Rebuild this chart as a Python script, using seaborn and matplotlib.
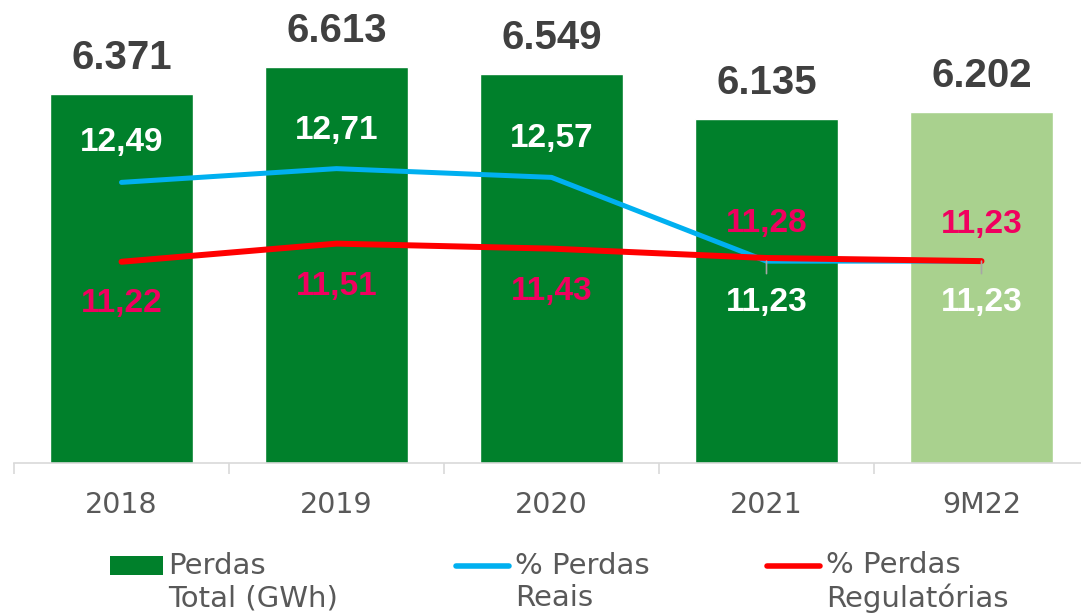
import numpy as np
import pandas as pd
import matplotlib.pyplot as plt
import seaborn as sns
from matplotlib.patches import Patch
from matplotlib.lines import Line2D

# data
categories = ['2018', '2019', '2020', '2021', '9M22']
perdas_total = [6371, 6613, 6549, 6135, 6202]           # GWh
perdas_reais = [12.49, 12.71, 12.57, 11.23, 11.23]      # %
perdas_regulatorias = [11.22, 11.51, 11.43, 11.28, 11.23]  # %

DARK_GREEN = '#00802B'
LIGHT_GREEN = '#A9D18E'
BLUE = '#00B0F0'
RED = '#FF0000'
PINK = '#F0005F'
GREY_TXT = '#595959'
LABEL_FONT = 'Liberation Sans'

sns.set_style('white')
plt.rcParams['font.family'] = ['DejaVu Sans']

df = pd.DataFrame({'cat': categories, 'total': perdas_total,
                   'reais': perdas_reais, 'reg': perdas_regulatorias})

fig = plt.figure(figsize=(10.81, 6.13), dpi=100)
ax = fig.add_axes([14 / 1081, 150 / 613, 1075 / 1081, 463 / 613])

bar_colors = [DARK_GREEN] * 4 + [LIGHT_GREEN]
sns.barplot(data=df, x='cat', y='total', hue='cat', palette=bar_colors,
            legend=False, width=0.665, saturation=1, ax=ax)
ax.set_ylim(3000, 3000 + 463 / 0.1096)
ax.set_xlim(-0.5, 4.5)

# bar totals above the bars
for i, v in enumerate(perdas_total):
    ax.annotate(f"{v:,}".replace(',', '.'), xy=(i, v), xytext=(0, 36),
                textcoords='offset pixels', ha='center', va='center',
                fontsize=29, fontweight='bold', color='#404040',
                family=LABEL_FONT)

ax2 = ax.twinx()
sns.lineplot(data=df, x='cat', y='reais', color=BLUE, linewidth=3.6,
             sort=False, ax=ax2, solid_capstyle='round')
sns.lineplot(data=df, x='cat', y='reg', color=RED, linewidth=4.3,
             sort=False, ax=ax2, solid_capstyle='round')
ax2.set_ylim(8.0, 8.0 + 463 / 62.5)

# % labels
blue_off = [40, 38, 39, -41, -41]
red_off = [-42, -43, -43, 35, 37]
for i, v in enumerate(perdas_reais):
    kw = {}
    if blue_off[i] < 0:
        kw['arrowprops'] = dict(arrowstyle='-', color='#A6A6A6', lw=1.2,
                                shrinkA=7, shrinkB=0)
    ax2.annotate(f"{v:.2f}".replace('.', ','), xy=(i, v), xytext=(0, blue_off[i]),
                 textcoords='offset pixels', ha='center', va='center',
                 fontsize=24, fontweight='bold', color='white',
                 family=LABEL_FONT, **kw)
for i, v in enumerate(perdas_regulatorias):
    ax2.annotate(f"{v:.2f}".replace('.', ','), xy=(i, v), xytext=(0, red_off[i]),
                 textcoords='offset pixels', ha='center', va='center',
                 fontsize=24, fontweight='bold', color=PINK,
                 family=LABEL_FONT)

for a in (ax, ax2):
    a.set_xlabel('')
    a.set_ylabel('')
    a.set_yticks([])
    for s in ('top', 'left', 'right'):
        a.spines[s].set_visible(False)
    a.spines['bottom'].set_color('#D9D9D9')
    a.spines['bottom'].set_linewidth(1.2)
ax2.spines['bottom'].set_visible(False)

ax.set_xticks(np.arange(len(categories)))
ax.set_xticklabels(categories)
ax.set_xticks(np.arange(-0.5, len(categories)), minor=True)
ax.tick_params(axis='x', which='major', length=0, pad=20, labelsize=20.5,
               labelcolor=GREY_TXT)
ax.tick_params(axis='x', which='minor', length=8, width=1.2, color='#D9D9D9',
               direction='out', bottom=True)

# legend
handles = [Patch(facecolor=DARK_GREEN, edgecolor='none'),
           Line2D([], [], color=BLUE, lw=4, solid_capstyle='round'),
           Line2D([], [], color=RED, lw=4, solid_capstyle='round')]
labels = ['Perdas\nTotal (GWh)', '% Perdas\nReais', '% Perdas\nRegulatórias']
leg = fig.legend(handles, labels, loc='upper left',
                 bbox_to_anchor=(110 / 1081, 1 - 551 / 613), ncol=3,
                 frameon=False, fontsize=21, handlelength=1.8,
                 handleheight=0.62, handletextpad=0.2, columnspacing=4.05,
                 borderpad=0, borderaxespad=0, labelcolor=GREY_TXT)
shift = 0.6 * 21
for h in leg.legend_handles:
    if isinstance(h, Line2D):
        h.set_ydata(np.asarray(h.get_ydata()) + shift)
    else:
        h.set_y(h.get_y() + shift)

plt.savefig('out.png', dpi=100)
plt.close()
